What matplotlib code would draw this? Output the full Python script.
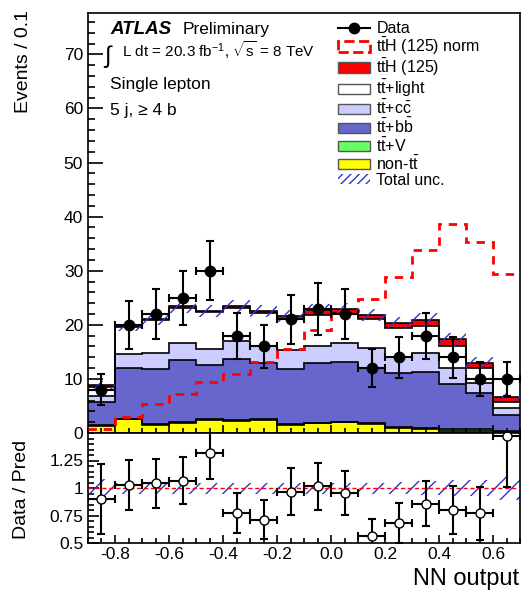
import matplotlib
matplotlib.use("Agg")
import matplotlib.pyplot as plt
from matplotlib.patches import Patch
from matplotlib.lines import Line2D
from matplotlib.ticker import MultipleLocator
import numpy as np

plt.rcParams['font.family'] = ['Liberation Sans', 'DejaVu Sans']
plt.rcParams['mathtext.fontset'] = 'custom'
plt.rcParams['mathtext.rm'] = 'Liberation Sans'
plt.rcParams['mathtext.it'] = 'Liberation Sans:italic'
plt.rcParams['mathtext.bf'] = 'Liberation Sans:bold'
plt.rcParams['axes.unicode_minus'] = False
plt.rcParams['hatch.color'] = '#3333cc'
plt.rcParams['hatch.linewidth'] = 1.0

# NN output binning
edges = np.round(np.arange(-0.9, 0.71, 0.1), 2)
centers = (edges[:-1] + edges[1:]) / 2

# observed events per bin
data = [8, 20, 22, 25, 30, 18, 16, 21, 23, 22, 12, 14, 18, 14, 10, 10]

# stacked predictions (bottom to top)
non_tt = [1.35, 2.5, 1.5, 1.9, 2.4, 2.3, 2.4, 1.5, 1.8, 2.0, 1.7, 0.9, 0.7, 0.45, 0.45, 0.1]
ttV = [0.1, 0.1, 0.1, 0.1, 0.1, 0.1, 0.1, 0.1, 0.1, 0.1, 0.1, 0.2, 0.2, 0.25, 0.35, 0.2]
ttbb = [4.35, 9.5, 10.2, 11.5, 10.1, 11.2, 10.4, 10.2, 11.0, 11.0, 10.2, 10.0, 10.4, 8.3, 6.6, 3.0]
ttcc = [1.0, 2.5, 2.9, 3.2, 2.9, 3.5, 3.2, 3.5, 3.2, 3.5, 3.8, 3.0, 3.4, 3.1, 1.9, 1.3]
ttlight = [1.7, 5.0, 6.1, 6.5, 6.8, 6.0, 6.1, 5.7, 5.8, 5.5, 5.3, 5.4, 5.1, 4.0, 2.7, 1.1]
ttH = [0.4, 0.2, 0.2, 0.2, 0.3, 0.3, 0.4, 0.6, 0.9, 0.8, 0.7, 0.9, 1.1, 1.2, 1.0, 0.9]

# ttH normalised to the total background
ttH_norm = [0.75, 3.0, 5.3, 7.3, 9.4, 10.9, 13.2, 15.6, 19.0, 22.5, 24.8, 28.8, 33.9, 38.6, 35.4, 29.4]

# relative total uncertainty
rel_unc = [0.08, 0.05, 0.05, 0.05, 0.05, 0.05, 0.05, 0.05, 0.05, 0.05, 0.05, 0.055, 0.065, 0.07, 0.075, 0.11]

# data / prediction
ratio = [0.90, 1.027, 1.045, 1.066, 1.32, 0.77, 0.71, 0.967, 1.015, 0.955, 0.56, 0.68, 0.858, 0.80, 0.77, 1.47]

layers = [non_tt, ttV, ttbb, ttcc, ttlight, ttH]
colors = ['#ffff00', '#66ff66', '#6666cc', '#ccccff', '#ffffff', '#ff0000']
labels = [r'non-$\mathrm{t\bar{t}}$', r'$\mathrm{t\bar{t}}$+V', r'$\mathrm{t\bar{t}}$+b$\mathrm{\bar{b}}$',
          r'$\mathrm{t\bar{t}}$+c$\mathrm{\bar{c}}$', r'$\mathrm{t\bar{t}}$+light', r'$\mathrm{t\bar{t}}$H (125)']

fig = plt.figure(figsize=(5.22, 5.93), dpi=100)
ax = fig.add_axes([88/522, 1-433/593, 432/522, (433-12.7)/593])
rax = fig.add_axes([88/522, 1-543/593, 432/522, 110/593])

# stack
bottom = np.zeros(len(centers))
for vals, col in zip(layers, colors):
    top = bottom + np.array(vals)
    ax.stairs(top, edges, baseline=bottom, fill=True, color=col, zorder=1)
    ax.stairs(top, edges, baseline=None, color='black', lw=1.2, zorder=2)
    bottom = top
total = bottom

# uncertainty band
unc = total * np.array(rel_unc)
ax.bar(centers, 2*unc, bottom=total-unc, width=0.1, fill=False, hatch='//',
       edgecolor='#3333cc', linewidth=0, zorder=3)

# ttH normalised
ax.stairs(ttH_norm, edges, baseline=None, color='red', lw=2, ls=(0, (3, 2.5)), zorder=3)

# data
ax.errorbar(centers, data, yerr=np.sqrt(data), xerr=0.05, fmt='o', color='black',
            ms=7.5, lw=1.5, capsize=3, capthick=1.5, zorder=5)

ax.set_xlim(-0.9, 0.7)
ax.set_ylim(0, 77.7)
ax.yaxis.set_major_locator(MultipleLocator(10))
ax.yaxis.set_minor_locator(MultipleLocator(2))
ax.xaxis.set_major_locator(MultipleLocator(0.2))
ax.xaxis.set_minor_locator(MultipleLocator(0.05))
ax.tick_params(which='both', direction='in', labelsize=12.5)
ax.tick_params(axis='y', which='major', length=11, width=1.2)
ax.tick_params(axis='y', which='minor', length=5, width=1.2)
ax.tick_params(axis='x', which='major', length=6, width=1.2)
ax.tick_params(axis='x', which='minor', length=3.5, width=1.2)
ax.tick_params(axis='x', labelbottom=False)
for s in ax.spines.values():
    s.set_linewidth(1.2)

# ratio panel
rax.bar(centers, 2*np.array(rel_unc), bottom=1-np.array(rel_unc), width=0.1, fill=False,
        hatch='//', edgecolor='#3333cc', linewidth=0, zorder=2)
rax.axhline(1, color='red', lw=1, ls=(0, (3, 2)), zorder=3)
ratio_err = np.array(ratio) / np.sqrt(data)
rax.errorbar(centers, ratio, yerr=ratio_err, xerr=0.05, fmt='o', color='black', mfc='white',
             mec='black', ms=6.5, lw=1.5, capsize=3, capthick=1.5, zorder=5)
rax.set_xlim(-0.9, 0.7)
rax.set_ylim(0.5, 1.5)
rax.set_yticks([0.5, 0.75, 1, 1.25])
rax.set_yticklabels(['0.5', '0.75', '1', '1.25'])
rax.yaxis.set_minor_locator(MultipleLocator(0.05))
rax.xaxis.set_major_locator(MultipleLocator(0.2))
rax.xaxis.set_minor_locator(MultipleLocator(0.05))
rax.tick_params(which='both', direction='in', labelsize=12.5)
rax.tick_params(axis='y', which='major', length=8, width=1.2)
rax.tick_params(axis='y', which='minor', length=4, width=1.2)
rax.tick_params(axis='x', which='major', length=6, width=1.2, pad=3)
rax.tick_params(axis='x', which='minor', length=3.5, width=1.2)
for s in rax.spines.values():
    s.set_linewidth(1.2)

# axis titles
fig.text(24/522, 1-10/593, 'Events / 0.1', rotation=90, ha='center', va='top', fontsize=14)
fig.text(22/522, 1-489/593, 'Data / Pred', rotation=90, ha='center', va='center', fontsize=14)
fig.text(519/522, 1-585/593, 'NN output', ha='right', va='baseline', fontsize=17)

# labels
fig.text(110/522, 1-34/593, 'ATLAS', fontsize=13.5, fontweight='bold', fontstyle='italic', va='baseline')
fig.text(183/522, 1-34/593, 'Preliminary', fontsize=12.5, va='baseline')
fig.text(104/522, 1-63/593, '\u222b', fontsize=17, va='baseline')
fig.text(122/522, 1-57/593, r'L dt = 20.3 fb$^{-1}$, $\sqrt{\mathrm{s}}$ = 8 TeV', fontsize=11, va='baseline')
fig.text(110/522, 1-89/593, 'Single lepton', fontsize=12.5, va='baseline')
fig.text(110/522, 1-115/593, '5 j, \u2265 4 b', fontsize=12.5, va='baseline')

# legend
handles = [Line2D([], [], color='black', marker='o', ms=7.5, lw=1.5),
           Patch(fill=False, edgecolor='red', ls='--', lw=2)]
leg_labels = ['Data', r'$\mathrm{t\bar{t}}$H (125) norm']
for col, lab in zip(colors[::-1], labels[::-1]):
    handles.append(Patch(facecolor=col, edgecolor='#555555', lw=1))
    leg_labels.append(lab)
handles.append(Patch(fill=False, hatch='////', edgecolor='#3333cc', lw=0))
leg_labels.append('Total unc.')
fig.legend(handles, leg_labels, loc='upper left', bbox_to_anchor=(338/522, 1-21/593),
           frameon=False, fontsize=11.5, handlelength=2.0, handleheight=0.6,
           labelspacing=0.0, handletextpad=0.4, borderpad=0, borderaxespad=0)

fig.savefig('out.png', dpi=100)
